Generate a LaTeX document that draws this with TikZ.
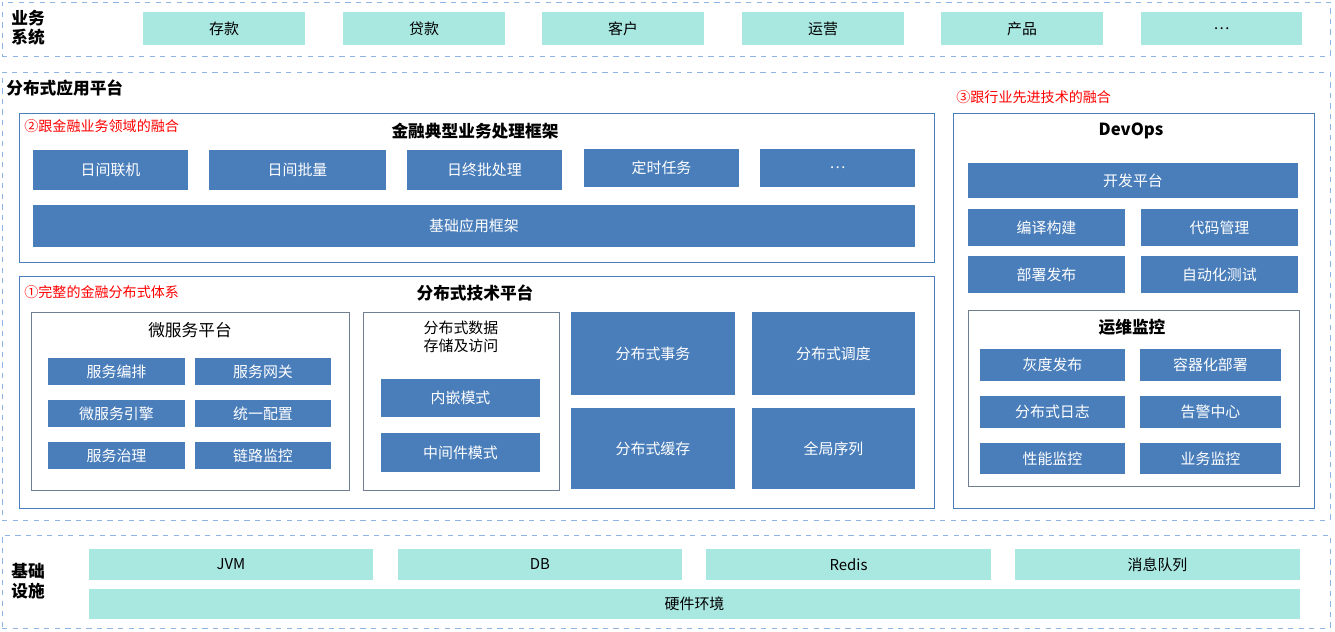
\documentclass[tikz,border=0pt]{standalone}
\usepackage{fontspec}
\setmainfont{Noto Sans CJK SC}
\usetikzlibrary{positioning}

\definecolor{fblue}{HTML}{4A7EBB}
\definecolor{fteal}{HTML}{A9E7E1}
\definecolor{fdash}{HTML}{8EB4E3}

% box from pixel corners: name, x1, y1, x2, y2, style, text
\newcommand\bx[7]{\node[#6, minimum width={(#4-#2)*0.02cm}, minimum height={(#5-#3)*0.02cm}] (#1) at ({(#2+#4)/2},{(#3+#5)/2}) {#7};}

\begin{document}
\begin{tikzpicture}[x=0.02cm, y=-0.02cm, font=\fontsize{8.5}{10}\selectfont,
  every node/.style={inner sep=0pt, align=center},
  blk/.style={fill=fblue, text=white},
  tea/.style={fill=fteal, text=black},
  area/.style={draw=fdash, dashed, thin},
  frm/.style={draw=fblue, thin},
  sub/.style={draw=gray!70!fblue, thin},
  ttl/.style={font=\fontsize{9.5}{11}\selectfont\bfseries},
  note/.style={text=red, font=\fontsize{8}{10}\selectfont, anchor=west}]
  \useasboundingbox (0,0) rectangle (1335,632);

  % business systems
  \bx{biz}{2}{2}{1330}{56}{area}{}
  \node[ttl, align=left] (bizl) at (28,28) {业务\\系统};
  \bx{ck}{143}{12}{305}{45}{tea}{存款}
  \bx{dk}{343}{12}{505}{45}{tea}{贷款}
  \bx{kh}{542}{12}{704}{45}{tea}{客户}
  \bx{yy}{742}{12}{904}{45}{tea}{运营}
  \bx{cp}{941}{12}{1103}{45}{tea}{产品}
  \bx{bzz}{1141}{12}{1302}{45}{tea}{\ldots}

  % platform
  \bx{plat}{2}{72}{1330}{520}{area}{}
  \node[ttl, anchor=west] (platl) at (6,88) {分布式应用平台};

  \bx{fin}{19}{113}{934}{262}{frm}{}
  \node[ttl] (finl) at (475,131) {金融典型业务处理框架};
  \node[note] (n2) at (24,126) {②跟金融业务领域的融合};
  \bx{rjlj}{33}{150}{188}{190}{blk}{日间联机}
  \bx{rjpl}{209}{150}{386}{190}{blk}{日间批量}
  \bx{rzpcl}{407}{150}{562}{190}{blk}{日终批处理}
  \bx{dsrw}{584}{149}{739}{187}{blk}{定时任务}
  \bx{fzz}{760}{149}{915}{187}{blk}{\ldots}
  \bx{jcyy}{33}{205}{915}{247}{blk}{基础应用框架}

  \bx{tech}{19}{276}{934}{508}{frm}{}
  \node[ttl] (techl) at (475,293) {分布式技术平台};
  \node[note] (n1) at (24,292) {①完整的金融分布式体系};

  \bx{wfw}{31}{312}{349}{490}{sub}{}
  \node (wfwl) at (190,330) {\fontsize{9.5}{11}\selectfont 微服务平台};
  \bx{fwbp}{48}{358}{185}{385}{blk}{服务编排}
  \bx{fwwg}{195}{358}{331}{385}{blk}{服务网关}
  \bx{wfwyq}{48}{400}{185}{427}{blk}{微服务引擎}
  \bx{typz}{195}{400}{331}{427}{blk}{统一配置}
  \bx{fwzl}{48}{442}{185}{469}{blk}{服务治理}
  \bx{lljk}{195}{442}{331}{469}{blk}{链路监控}

  \bx{sjcc}{363}{312}{559}{490}{sub}{}
  \node (sjccl) at (461,337) {分布式数据\\存储及访问};
  \bx{nqms}{381}{379}{540}{417}{blk}{内嵌模式}
  \bx{zjjms}{381}{433}{540}{472}{blk}{中间件模式}

  \bx{fbsw}{571}{312}{735}{395}{blk}{分布式事务}
  \bx{fbdd}{752}{312}{915}{395}{blk}{分布式调度}
  \bx{fbhc}{571}{408}{735}{489}{blk}{分布式缓存}
  \bx{qjxl}{752}{408}{915}{489}{blk}{全局序列}

  % devops
  \bx{dev}{953}{113}{1314}{508}{frm}{}
  \node[note] (n3) at (956,97) {③跟行业先进技术的融合};
  \node[ttl] (devl) at (1131,131) {DevOps};
  \bx{kfpt}{968}{163}{1298}{198}{blk}{开发平台}
  \bx{bygj}{968}{209}{1125}{246}{blk}{编译构建}
  \bx{dmgl}{1141}{209}{1298}{246}{blk}{代码管理}
  \bx{bsfb}{968}{256}{1125}{293}{blk}{部署发布}
  \bx{zdhcs}{1141}{256}{1298}{293}{blk}{自动化测试}

  \bx{ywjk}{968}{310}{1299}{486}{sub}{}
  \node[ttl] (ywjkl) at (1132,327) {运维监控};
  \bx{hdfb}{980}{349}{1125}{381}{blk}{灰度发布}
  \bx{rqh}{1140}{349}{1281}{381}{blk}{容器化部署}
  \bx{fbrz}{980}{396}{1125}{428}{blk}{分布式日志}
  \bx{gjzx}{1140}{396}{1281}{428}{blk}{告警中心}
  \bx{xnjk}{980}{443}{1125}{474}{blk}{性能监控}
  \bx{ywjk2}{1140}{443}{1281}{474}{blk}{业务监控}

  % infrastructure
  \bx{infra}{2}{535}{1330}{628}{area}{}
  \node[ttl, align=left] (infral) at (28,581) {基础\\设施};
  \bx{jvm}{89}{549}{373}{580}{tea}{JVM}
  \bx{db}{398}{549}{682}{580}{tea}{DB}
  \bx{redis}{706}{549}{991}{580}{tea}{Redis}
  \bx{mq}{1015}{549}{1300}{580}{tea}{消息队列}
  \bx{yjhj}{89}{589}{1300}{619}{tea}{硬件环境}
\end{tikzpicture}
\end{document}
